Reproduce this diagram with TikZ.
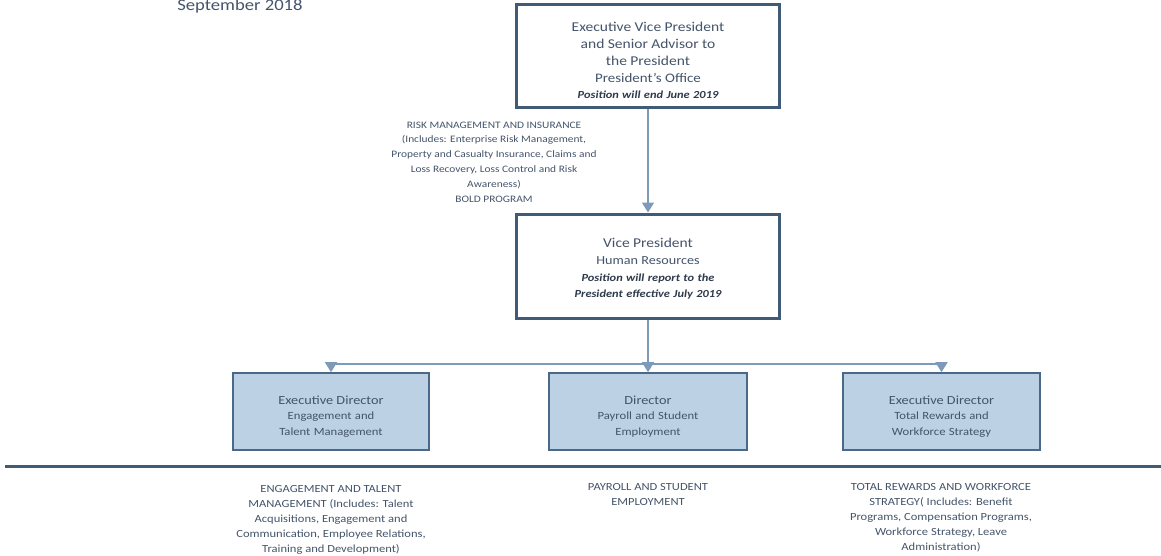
\documentclass[tikz,border=0pt]{standalone}
\usepackage{fontspec}
\setmainfont{Carlito}[FakeStretch=1.15]
\usetikzlibrary{arrows.meta}
\definecolor{boxline}{HTML}{3F5B76}
\definecolor{conncol}{HTML}{7D9BB8}
\definecolor{childfill}{HTML}{BCD1E4}
\definecolor{childline}{HTML}{4A6888}
\definecolor{txt}{HTML}{44546A}
\definecolor{txtdark}{HTML}{2F3B4C}
\tikzset{
  bigbox/.style={draw=boxline, line width=3pt, fill=white, minimum width=263pt, text width=255pt, align=center, text=txt, inner sep=0pt},
  childbox/.style={draw=childline, line width=1.6pt, fill=childfill, minimum height=77pt, text width=192pt, align=center, text=txt, inner sep=0pt},
  conn/.style={draw=conncol, line width=1.6pt},
  connarrow/.style={conn, -{Triangle[width=12pt,length=10pt]}},
  note/.style={align=center, text=txt, inner sep=0pt},
  divider/.style={draw=boxline, line width=3pt}
}
\newcommand{\bigt}{\fontsize{13.5}{17}\selectfont}
\newcommand{\subt}{\fontsize{13}{17}\selectfont}
\newcommand{\vpsub}{\fontsize{12.3}{17}\selectfont}
\newcommand{\emt}{\fontsize{10.8}{16.5}\selectfont\bfseries\itshape\color{txtdark}}
\newcommand{\cht}{\fontsize{12.4}{15.5}\selectfont}
\newcommand{\chs}{\fontsize{11}{15.5}\selectfont}
\begin{document}
\begin{tikzpicture}[x=1pt,y=-1pt]
\useasboundingbox (0,0) rectangle (1161,556);
\node[anchor=base, text=txt, font=\fontsize{16.2}{18}\selectfont, inner sep=0pt] (date) at (240,11) {September 2018};

\node[bigbox, minimum height=103pt] (evp) at (648,56) {{\bigt Executive Vice President\\ and Senior Advisor to\\ the President\par}{\subt President’s Office\par}{\emt Position will end June 2019\par}\vspace{-9pt}};

\node[note, font=\fontsize{9.9}{14.8}\selectfont] (risk) at (494,162) {RISK MANAGEMENT AND INSURANCE\\
(Includes: Enterprise Risk Management,\\
Property and Casualty Insurance, Claims and\\
Loss Recovery, Loss Control and Risk\\
Awareness)\\
BOLD PROGRAM};

\node[bigbox, minimum height=104pt] (vp) at (648,266) {{\bigt Vice President\par}{\vpsub Human Resources\par}{\emt Position will report to the\\ President effective July 2019\par}\vspace{-6pt}};

\node[childbox, minimum width=196pt] (c1) at (331,411.5) {{\cht Executive Director\par}{\chs Engagement and\\ Talent Management\par}\vspace{-10pt}};
\node[childbox, minimum width=198pt] (c2) at (648,411.5) {{\cht Director\par}{\chs Payroll and Student\\ Employment\par}\vspace{-10pt}};
\node[childbox, minimum width=197pt] (c3) at (941.5,411.5) {{\cht Executive Director\par}{\chs Total Rewards and\\ Workforce Strategy\par}\vspace{-10pt}};

\coordinate (j) at (648,364);
\draw[connarrow] (evp.south) -- (vp.north);
\draw[conn] (vp.south) -- (j);
\draw[connarrow] (j) -- (c2.north);
\draw[connarrow] (j) -| (c1.north);
\draw[connarrow] (j) -| (c3.north);

\coordinate (dl) at (5,466);
\coordinate (dr) at (1161,466);
\draw[divider] (dl) -- (dr);

\node[note, anchor=north, font=\fontsize{10.9}{15}\selectfont] (b1) at (331,485) {ENGAGEMENT AND TALENT\\
MANAGEMENT (Includes: Talent\\
Acquisitions, Engagement and\\
Communication, Employee Relations,\\
Training and Development)};
\node[note, anchor=north, font=\fontsize{10.9}{15}\selectfont] (b2) at (648,483) {PAYROLL AND STUDENT\\ EMPLOYMENT};
\node[note, anchor=north, font=\fontsize{10.9}{15}\selectfont] (b3) at (941,483) {TOTAL REWARDS AND WORKFORCE\\
STRATEGY( Includes: Benefit\\
Programs, Compensation Programs,\\
Workforce Strategy, Leave\\
Administration)};
\end{tikzpicture}
\end{document}
